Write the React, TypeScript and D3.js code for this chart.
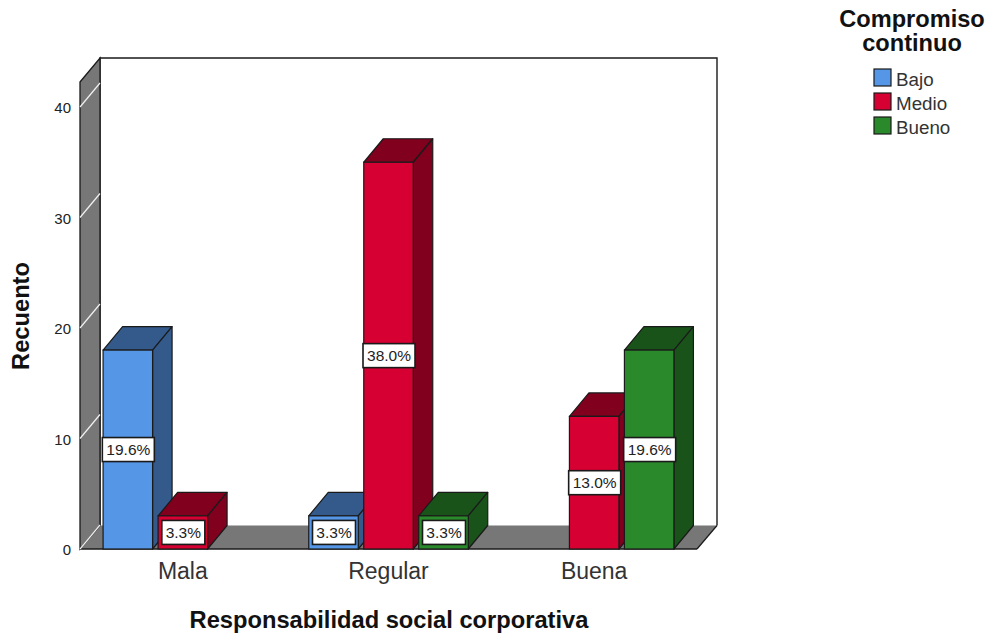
import React from "react";
import * as d3 from "d3";

const categories = ["Mala", "Regular", "Buena"];
const seriesNames = ["Bajo", "Medio", "Bueno"];
const fronts = ["#5596E6", "#D60032", "#2A8A2B"];
const shades = ["#335A8A", "#80001E", "#19531A"];
const bajoCounts = [18, 3, 0];
const medioCounts = [3, 35, 12];
const buenoCounts = [0, 3, 18];
const bajoLabels = ["19.6%", "3.3%", ""];
const medioLabels = ["3.3%", "38.0%", "13.0%"];
const buenoLabels = ["", "3.3%", "19.6%"];
const yTicks = [0, 10, 20, 30, 40];

const counts = [bajoCounts, medioCounts, buenoCounts];
const labels = [bajoLabels, medioLabels, buenoLabels];

const FONT = "'Liberation Sans', Arial, sans-serif";
const DX = 19.5;
const DY = 23.5;
const LINE = "#1a1a1a";

const x0 = d3.scaleBand<string>().domain(categories).range([80, 697]);
const x1 = d3.scaleBand<string>().domain(seriesNames).range([-79.75, 79.75]).paddingInner(0.1).paddingOuter(0);
const y = d3.scaleLinear().domain([0, 40]).range([549, 107]);

const poly = (pts: [number, number][]) => pts.map((p) => p.join(",")).join(" ");

function Bar({ cat, si, value, label }: { cat: string; si: number; value: number; label: string }) {
  const name = seriesNames[si];
  const left = x0(cat)! + x0.bandwidth() / 2 + x1(name)!;
  const right = left + x1.bandwidth();
  const top = y(value);
  const bottom = y(0);
  const cx = (left + right) / 2;
  const cy = (top + bottom) / 2;
  const boxW = label.length > 4 ? 52 : 43;
  const boxH = 24;
  return (
    <g>
      <polygon
        points={poly([[left, top], [left + DX, top - DY], [right + DX, top - DY], [right, top]])}
        fill={shades[si]} stroke={LINE} strokeWidth={1.2} strokeLinejoin="round"
      />
      <polygon
        points={poly([[right, top], [right + DX, top - DY], [right + DX, bottom - DY], [right, bottom]])}
        fill={shades[si]} stroke={LINE} strokeWidth={1.2} strokeLinejoin="round"
      />
      <rect x={left} y={top} width={right - left} height={bottom - top} fill={fronts[si]} stroke={LINE} strokeWidth={1.2} />
      <rect x={cx - boxW / 2 + 0.5} y={cy - boxH / 2} width={boxW} height={boxH} fill="#fff" stroke={LINE} strokeWidth={1.6} />
      <text x={cx + 0.5} y={cy + 5.5} textAnchor="middle" fontSize={15.5} fill="#222" fontFamily={FONT}>{label}</text>
    </g>
  );
}

export default function App() {
  const wallTop = 58;
  const floorFront = y(0);
  const floorBack = floorFront - DY;
  const wallFrontTop = wallTop + 24;
  return (
    <svg width={992} height={636} style={{ position: "absolute", left: 0, top: 0, background: "#fff" }}>
      {/* back wall, floor and side wall of the 3D box */}
      <polyline points={poly([[100, floorBack], [100, wallTop], [717, wallTop], [717, floorBack]])} fill="#fff" stroke={LINE} strokeWidth={1.4} />
      <polygon points={poly([[80, floorFront], [100, floorBack], [717, floorBack], [697, floorFront]])} fill="#777" />
      <line x1={80} x2={697} y1={floorFront} y2={floorFront} stroke={LINE} strokeWidth={1.4} />
      <line x1={697} x2={717} y1={floorFront} y2={floorBack} stroke={LINE} strokeWidth={1.2} />
      <polygon points={poly([[80, wallFrontTop], [100, wallTop], [100, floorBack], [80, floorFront]])} fill="#777" stroke={LINE} strokeWidth={1.3} />
      {yTicks.map((t) => (
        <g key={t}>
          <line x1={80} x2={100} y1={y(t)} y2={y(t) - 24} stroke="#f2f2f2" strokeWidth={1.2} />
          <text x={71} y={y(t) + 6} textAnchor="end" fontSize={15} fill="#222" fontFamily={FONT}>{t}</text>
        </g>
      ))}

      {categories.map((cat, c) =>
        seriesNames.map((_, si) =>
          counts[si][c] > 0 ? <Bar key={cat + si} cat={cat} si={si} value={counts[si][c]} label={labels[si][c]} /> : null
        )
      )}

      {categories.map((cat) => (
        <text key={cat} x={x0(cat)! + x0.bandwidth() / 2} y={579} textAnchor="middle" fontSize={23} fill="#333" fontFamily={FONT}>{cat}</text>
      ))}

      <text x={389} y={628} textAnchor="middle" fontSize={23.7} fontWeight="bold" fill="#111" fontFamily={FONT}>Responsabilidad social corporativa</text>
      <text transform="translate(29,316) rotate(-90)" textAnchor="middle" fontSize={23.7} fontWeight="bold" fill="#111" fontFamily={FONT}>Recuento</text>

      <text x={912} y={27} textAnchor="middle" fontSize={23.6} fontWeight="bold" fill="#111" fontFamily={FONT}>Compromiso</text>
      <text x={912} y={51} textAnchor="middle" fontSize={23.6} fontWeight="bold" fill="#111" fontFamily={FONT}>continuo</text>
      {seriesNames.map((name, i) => (
        <g key={name}>
          <rect x={874} y={69 + i * 24} width={17} height={17} fill={fronts[i]} stroke={LINE} strokeWidth={1.2} />
          <text x={896} y={85.5 + i * 24} fontSize={18.8} fill="#333" fontFamily={FONT}>{name}</text>
        </g>
      ))}
    </svg>
  );
}
